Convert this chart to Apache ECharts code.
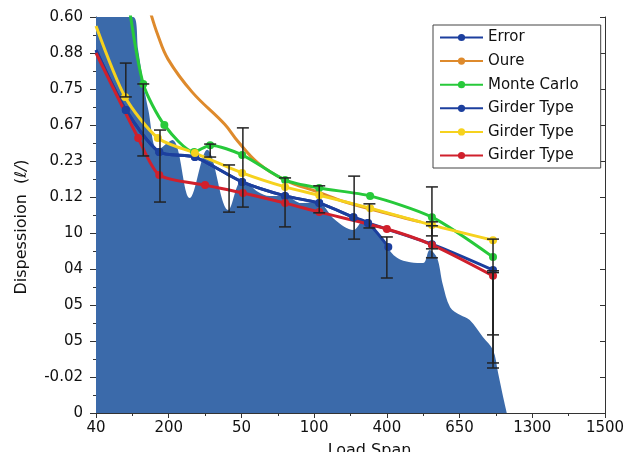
<!DOCTYPE html>
<html>
<head>
<meta charset="utf-8">
<script src="https://cdn.jsdelivr.net/npm/echarts@6/dist/echarts.min.js"></script>
<style>
  html, body { margin: 0; padding: 0; background: #fff; }
  #chart { width: 625px; height: 452px; }
</style>
</head>
<body>
<div id="chart"></div>
<script>
const xLabels = ['40', '200', '50', '100', '400', '650', '1300', '1500'];
const yLabels = ['0', '-0.02', '05', '05', '04', '10', '0.12', '0.23', '0.67', '0.75', '0.88', '0.60'];

// blue filled background
const areaX = [0, 0.51, 0.58, 0.65, 0.72, 0.85, 1.05, 1.29, 1.53, 1.82, 2.01, 2.23, 2.39, 2.60, 2.83, 3.04, 3.29, 3.54, 3.67, 3.81, 3.98, 4.14, 4.32, 4.50, 4.59, 4.69, 4.77, 4.87, 5.01, 5.14, 5.32, 5.46, 5.53, 5.60, 5.65];
const areaY = [11, 11, 10.08, 9.17, 8.42, 7.31, 7.58, 5.97, 7.31, 5.64, 6.47, 6.14, 6.03, 6.03, 5.83, 5.86, 5.36, 5.08, 5.31, 5.17, 4.67, 4.31, 4.19, 4.17, 4.53, 4.31, 3.56, 2.94, 2.72, 2.58, 2.11, 1.75, 1.11, 0.44, 0];

const errorX = [0, 0.41, 0.87, 1.36, 2.01, 2.60, 3.07, 3.54, 3.74, 4.02];
const errorY = [10.08, 8.42, 7.25, 7.11, 6.42, 6.03, 5.83, 5.44, 5.28, 4.61];

const oureX = [0.70, 0.74, 0.85, 0.99, 1.32, 1.77, 1.95, 2.23, 2.60, 3.05, 3.43, 4.09, 4.46];
const oureY = [11.5, 11.19, 10.5, 9.83, 8.92, 8.02, 7.55, 6.94, 6.47, 6.14, 5.86, 5.5, 5.31];

const monteX = [0.44, 0.65, 0.94, 1.35, 1.57, 2.01, 2.60, 3.07, 3.77, 4.62, 5.46];
const monteY = [11.5, 9.14, 8.0, 7.25, 7.44, 7.17, 6.47, 6.25, 6.03, 5.44, 4.33];

const girderBlueX = [0, 0.41, 0.87, 1.36, 2.01, 2.60, 3.07, 3.54, 3.74, 4.62, 5.46];
const girderBlueY = [10.08, 8.42, 7.25, 7.11, 6.42, 6.03, 5.83, 5.44, 5.28, 4.69, 3.97];

const girderYellowX = [0, 0.40, 0.85, 1.36, 2.01, 2.60, 3.07, 3.77, 4.62, 5.46];
const girderYellowY = [10.75, 8.78, 7.64, 7.22, 6.67, 6.28, 6.05, 5.69, 5.22, 4.8];

const girderRedX = [0, 0.58, 0.87, 1.50, 2.02, 2.60, 3.07, 4.00, 4.62, 5.46];
const girderRedY = [10.0, 7.64, 6.61, 6.33, 6.11, 5.83, 5.58, 5.11, 4.67, 3.81];

// error bars
const barX = [0.41, 0.65, 0.88, 1.57, 1.83, 2.02, 2.60, 3.07, 3.55, 3.76, 4.00, 4.62, 4.62, 4.62, 5.46, 5.46, 5.46];
const barHigh = [9.72, 9.14, 7.86, 7.47, 6.89, 7.92, 6.53, 6.31, 6.58, 5.81, 4.89, 6.28, 5.31, 5.2, 4.83, 3.95, 3.9];
const barLow = [8.78, 7.14, 5.86, 7.11, 5.58, 5.72, 5.17, 5.56, 4.83, 5.14, 3.75, 4.31, 4.56, 4.92, 1.25, 2.17, 1.39];

const FONT = 'DejaVu Sans';

function pts(xs, ys, hideFirst) {
  return xs.map(function (x, i) {
    if (hideFirst && i === 0) return { value: [x, ys[i]], symbol: 'none' };
    return [x, ys[i]];
  });
}

function lineSeries(name, color, xs, ys, withSymbol, smooth) {
  return {
    name: name,
    type: 'line',
    data: pts(xs, ys, true),
    smooth: smooth,
    symbol: withSymbol ? 'circle' : 'none',
    symbolSize: 8,
    showSymbol: withSymbol,
    color: color,
    lineStyle: { color: color, width: 3 },
    itemStyle: { color: color },
    z: 3
  };
}

const chart = echarts.init(document.getElementById('chart'));

const option = {
  backgroundColor: '#fff',
  animation: false,
  grid: { left: 96, right: 20, top: 17, bottom: 39, outerBoundsMode: 'none' },
  legend: {
    data: ['Error', 'Oure', 'Monte Carlo', 'Girder Type 1', 'Girder Type 2', 'Girder Type 3'],
    formatter: function (name) { return name.replace(/ \d$/, ''); },
    orient: 'vertical',
    left: 433,
    top: 25,
    itemWidth: 43,
    itemHeight: 9,
    itemGap: 8.6,
    padding: [5, 22, 5, 6],
    borderColor: '#444',
    borderWidth: 1,
    backgroundColor: '#fff',
    textStyle: { fontFamily: FONT, fontSize: 15, color: '#111' }
  },
  xAxis: {
    type: 'value',
    min: 0,
    max: 7,
    interval: 1,
    name: 'Load Span',
    nameLocation: 'middle',
    nameGap: 30,
    nameTextStyle: { fontFamily: FONT, fontSize: 16, color: '#111', padding: [0, 0, 0, 38] },
    axisLine: { lineStyle: { color: '#333', width: 1 } },
    axisTick: { length: 5, lineStyle: { color: '#333' } },
    minorTick: { show: true, splitNumber: 2, length: 3, lineStyle: { color: '#333' } },
    splitLine: { show: false },
    axisLabel: {
      fontFamily: FONT, fontSize: 15, color: '#111', margin: 8,
      formatter: function (v) { return xLabels[Math.round(v)]; }
    }
  },
  yAxis: [{
    type: 'value',
    min: 0,
    max: 11,
    interval: 1,
    name: '{n|Dispessioion  (}{i|ℓ/}{n|)}',
    nameLocation: 'middle',
    nameGap: 66,
    nameTextStyle: {
      color: '#111',
      padding: [0, 24, 0, 0],
      rich: {
        n: { fontFamily: FONT, fontSize: 16, color: '#111' },
        i: { fontFamily: FONT, fontSize: 16, fontStyle: 'italic', color: '#111' }
      }
    },
    axisLine: { show: true, lineStyle: { color: '#333', width: 1 } },
    axisTick: { length: 6, lineStyle: { color: '#333' } },
    minorTick: { show: true, splitNumber: 2, length: 3, lineStyle: { color: '#333' } },
    splitLine: { show: false },
    axisLabel: {
      fontFamily: FONT, fontSize: 15, color: '#111', margin: 13,
      formatter: function (v) { return yLabels[Math.round(v)]; }
    }
  }, {
    type: 'value',
    position: 'right',
    min: 0,
    max: 11,
    interval: 1,
    axisLine: { show: true, lineStyle: { color: '#333', width: 1 } },
    axisTick: { inside: true, length: 5, lineStyle: { color: '#333' } },
    axisLabel: { show: false },
    splitLine: { show: false }
  }],
  series: [
    {
      name: 'area',
      type: 'line',
      data: pts(areaX, areaY, false),
      smooth: 0.35,
      symbol: 'none',
      lineStyle: { width: 0 },
      areaStyle: { color: '#3b6aaa', opacity: 1 },
      z: 1
    },
    lineSeries('Oure', '#de8a2c', oureX, oureY, false, 0.4),
    lineSeries('Monte Carlo', '#27c93a', monteX, monteY, true, 0.25),
    lineSeries('Error', '#1c3f9e', errorX, errorY, true, 0.25),
    lineSeries('Girder Type 1', '#1c3f9e', girderBlueX, girderBlueY, true, 0.25),
    lineSeries('Girder Type 2', '#f6d21e', girderYellowX, girderYellowY, true, 0.25),
    lineSeries('Girder Type 3', '#d0202c', girderRedX, girderRedY, true, 0.25),
    {
      name: 'bars',
      type: 'custom',
      data: barX.map(function (x, i) { return [x, barLow[i], barHigh[i]]; }),
      encode: { x: 0, y: [1, 2] },
      z: 5,
      renderItem: function (params, api) {
        const x = api.value(0);
        const lo = api.coord([x, api.value(1)]);
        const hi = api.coord([x, api.value(2)]);
        const w = 6;
        const st = { stroke: '#222', lineWidth: 1.5 };
        return {
          type: 'group',
          children: [
            { type: 'line', shape: { x1: hi[0], y1: hi[1], x2: lo[0], y2: lo[1] }, style: st },
            { type: 'line', shape: { x1: hi[0] - w, y1: hi[1], x2: hi[0] + w, y2: hi[1] }, style: st },
            { type: 'line', shape: { x1: lo[0] - w, y1: lo[1], x2: lo[0] + w, y2: lo[1] }, style: st }
          ]
        };
      }
    }
  ]
};

chart.setOption(option);
</script>
</body>
</html>
